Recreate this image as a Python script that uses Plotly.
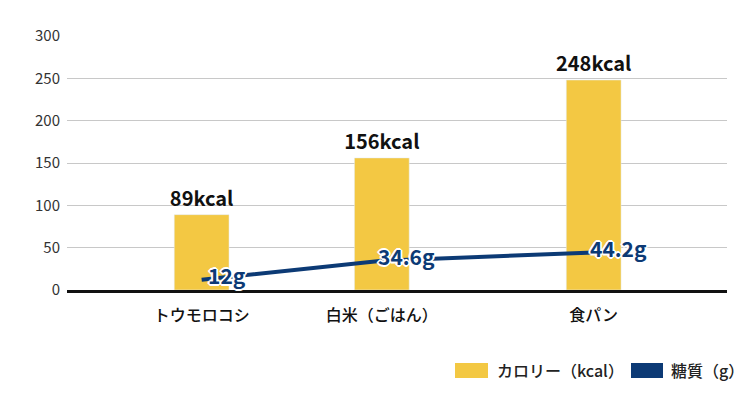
import plotly.graph_objects as go

categories = ["トウモロコシ", "白米（ごはん）", "食パン"]
calories = [89, 156, 248]
carbs = [12, 34.6, 44.2]
y_ticks = [0, 50, 100, 150, 200, 250, 300]

# layout: category centre positions on a 0..1 axis (uneven spacing as in reference)
x_pos = [0.204, 0.477, 0.798]

FONT = "Noto Sans CJK JP"
YELLOW = "#F3C843"
NAVY = "#0C3A75"

fig = go.Figure()
fig.add_trace(go.Bar(
    x=x_pos, y=calories, width=0.083, marker_color=YELLOW,
    text=[f"{v}kcal" for v in calories], textposition="outside",
    constraintext="none", textangle=0,
    textfont=dict(family=FONT, size=20, color="#111", weight="bold"),
    cliponaxis=False, name="カロリー（kcal）", showlegend=False,
))
fig.add_trace(go.Scatter(
    x=x_pos, y=carbs, mode="lines", line=dict(color=NAVY, width=4),
    name="糖質（g）", showlegend=False, cliponaxis=False,
))

sh = "1px 1px 0 #fff, -1px -1px 0 #fff, 1px -1px 0 #fff, -1px 1px 0 #fff, 0 2px 0 #fff, 0 -2px 0 #fff, 2px 0 0 #fff, -2px 0 0 #fff"
annotations = []
for x, v in zip(x_pos, carbs):
    annotations.append(dict(
        x=x, y=v, xref="x", yref="y", text=f"{v}g", showarrow=False,
        xshift=25, yshift=5,
        font=dict(family=FONT, size=21, color=NAVY, weight="bold", shadow=sh),
    ))

W, H = 750, 393
L, R, T, B = 67, 23, 36, 103
pw, ph = W - L - R, H - T - B

def px(x):
    return (x - L) / pw

def py(y):
    return (H - B - y) / ph

legend_items = [(455, 488, YELLOW, 495, "カロリー（kcal）"), (631, 663, NAVY, 669, "糖質（g）")]
shapes = []
for x0, x1, col, tx, label in legend_items:
    shapes.append(dict(type="rect", xref="paper", yref="paper",
                       x0=px(x0), x1=px(x1), y0=py(378), y1=py(363),
                       fillcolor=col, line=dict(width=0)))
    annotations.append(dict(xref="paper", yref="paper", x=px(tx), y=py(370.5),
                            xanchor="left", yanchor="middle", text=label, showarrow=False,
                            font=dict(family=FONT, size=16, color="#222", weight=500)))

fig.update_layout(
    width=W, height=H, margin=dict(l=L, r=R, t=T, b=B),
    paper_bgcolor="white", plot_bgcolor="white",
    font=dict(family=FONT, color="#222"),
    showlegend=False, shapes=shapes, annotations=annotations,
    xaxis=dict(range=[0, 1], tickvals=x_pos, ticktext=categories, showgrid=False,
               showline=True, linecolor="#111", linewidth=3, ticks="",
               tickfont=dict(family=FONT, size=16, color="#111", weight=500),
               ticklabelstandoff=9, zeroline=False, fixedrange=True),
    yaxis=dict(range=[0, 300], tickvals=y_ticks, showgrid=True, gridcolor="#c8c8c8",
               gridwidth=1, zeroline=False, ticks="",
               tickfont=dict(family=FONT, size=15, color="#333"),
               ticklabelstandoff=6, fixedrange=True),
)

fig.write_html("out.html")
